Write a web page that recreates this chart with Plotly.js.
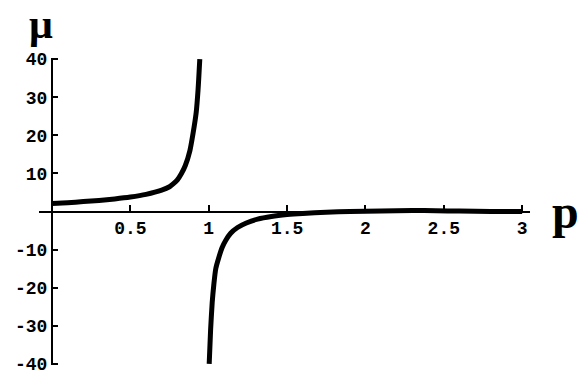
<!DOCTYPE html>
<html>
<head>
<meta charset="utf-8">
<script src="https://cdn.plot.ly/plotly-3.0.1.min.js"></script>
<style>
  html, body { margin: 0; padding: 0; background: #fff; }
  #chart { width: 586px; height: 375px; }
</style>
</head>
<body>
<div id="chart"></div>
<script>
// Curve: branch below the pole and branch above it
const pLeft = [0, 0.1, 0.2, 0.3, 0.4, 0.5, 0.6, 0.7, 0.75, 0.775, 0.8, 0.825, 0.85, 0.88, 0.9, 0.92, 0.932, 0.943];
const muLeft = [2.1, 2.3, 2.6, 2.9, 3.3, 3.8, 4.5, 5.6, 6.5, 7.3, 8.3, 9.9, 12, 16, 20.5, 26, 32, 40];

const pRight = [1.003, 1.012, 1.022, 1.033, 1.045, 1.065, 1.085, 1.108, 1.14, 1.184, 1.24, 1.312,
                1.4, 1.5, 1.6, 1.75, 1.9, 2.1, 2.3, 2.45, 2.6, 2.8, 3];
const muRight = [-40, -31, -24, -19, -15, -12, -9.5, -7.6, -5.7, -4.2, -3.0, -2.0,
                 -1.3, -0.8, -0.5, -0.2, 0, 0.15, 0.25, 0.2, 0.1, 0, 0];

// Tick labels
const xTicks = [0.5, 1, 1.5, 2, 2.5, 3];
const xTickText = ['0.5', '1', '1.5', '2', '2.5', '3'];
const yTicks = [-40, -30, -20, -10, 10, 20, 30, 40];
const yTickText = ['-40', '-30', '-20', '-10', '10', '20', '30', '40'];

const xRange = [-0.083, 3.05];
const yRange = [-40.3, 40.3];

const tickFont = {family: 'Liberation Mono, Courier New, monospace', size: 18, color: '#000', weight: 'bold'};
const muFont = {family: 'Liberation Serif, Times New Roman, serif', size: 42, color: '#000', weight: 'bold'};
const pFont = {family: 'Liberation Serif, Times New Roman, serif', size: 48, color: '#000', weight: 'bold'};

const line = {color: '#000', width: 5, shape: 'spline', smoothing: 0.6};

const data = [
    {x: pLeft, y: muLeft, mode: 'lines', line: line, hoverinfo: 'skip'},
    {x: pRight, y: muRight, mode: 'lines', line: line, hoverinfo: 'skip'}
];

// axes cross at the origin
const yAxisPos = (0 - xRange[0]) / (xRange[1] - xRange[0]);
const xAxisPos = (0 - yRange[0]) / (yRange[1] - yRange[0]);

const margin = {l: 39, r: 56, t: 58, b: 10};
const plotH = 375 - margin.t - margin.b;

const axisCommon = {
    anchor: 'free',
    showgrid: false,
    zeroline: false,
    showline: true,
    linecolor: '#000',
    linewidth: 2,
    ticks: 'inside',
    tickwidth: 2,
    tickcolor: '#000',
    tickfont: tickFont,
    ticklabeloverflow: 'allow',
    fixedrange: true
};

const layout = {
    width: 586,
    height: 375,
    showlegend: false,
    paper_bgcolor: '#fff',
    plot_bgcolor: '#fff',
    margin: margin,
    xaxis: Object.assign({}, axisCommon, {
        range: xRange,
        position: xAxisPos,
        ticklen: 6,
        tickvals: xTicks,
        ticktext: xTickText
    }),
    yaxis: Object.assign({}, axisCommon, {
        range: yRange,
        position: yAxisPos,
        ticklen: 5,
        tickvals: yTicks,
        ticktext: yTickText
    }),
    annotations: [
        // top of the text box sits on the top edge of the page
        {text: 'μ', xref: 'paper', yref: 'paper', x: -0.022, y: 1 + margin.t / plotH,
         xanchor: 'left', yanchor: 'top', borderpad: 0,
         showarrow: false, font: muFont},
        {text: 'p', xref: 'paper', yref: 'paper', x: 1.04, y: xAxisPos, xanchor: 'left', yanchor: 'middle',
         showarrow: false, font: pFont}
    ]
};

Plotly.newPlot('chart', data, layout, {staticPlot: true, displayModeBar: false});
</script>
</body>
</html>
